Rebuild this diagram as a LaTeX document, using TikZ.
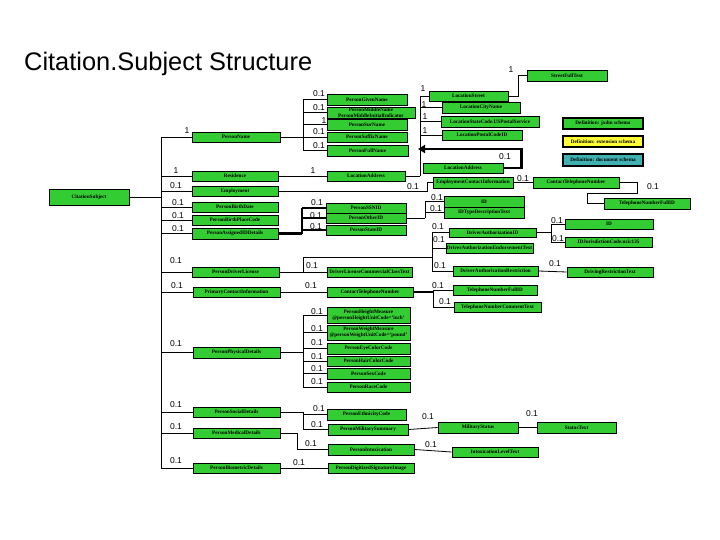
\documentclass[tikz,border=0pt]{standalone}
\usepackage{fontspec}
\setmainfont{Liberation Serif}
\newfontfamily\sansf{Liberation Sans}
\usetikzlibrary{arrows.meta}
\definecolor{gfill}{RGB}{51,204,51}
\definecolor{yfill}{RGB}{255,255,51}
\definecolor{tfill}{RGB}{64,176,176}
\newcommand{\bx}[7][]{\node[gbox,#1,minimum width={#4-#2},minimum height={#5-#3}] (#7) at ({(#2+#4)/2},{(#3+#5)/2}) {#6};}
\newcommand{\lb}[3]{\node[lab] (#1) at (#2) {#3};}
\begin{document}
\begin{tikzpicture}[x=1pt,y=-1pt,
  gbox/.style={draw=black,line width=0.7pt,fill=gfill,inner sep=0pt,align=center,font=\fontsize{5.2}{5.6}\selectfont\bfseries},
  legbox/.style={line width=1.8pt},
  lab/.style={inner sep=0pt,font=\sansf\fontsize{8.5}{9}\selectfont},
  conn/.style={line width=0.8pt},
  thickconn/.style={line width=2.4pt}]
\useasboundingbox (0,0) rectangle (720,540);
\node[anchor=base west,inner sep=0pt,font=\sansf\fontsize{25.4}{27}\selectfont] (title) at (24,71) {Citation.Subject Structure};
% coordinates of brackets
\coordinate (bMain) at (161,0);
\coordinate (bPN) at (303,0);
\coordinate (bLoc) at (420,0);
\coordinate (bID) at (302,0);
\coordinate (bOID) at (425,0);
\coordinate (bDA) at (432,0);
\coordinate (bDAID) at (551,0);
\coordinate (bTel) at (433,0);
\coordinate (bPhy) at (303,0);
\coordinate (bSoc) at (303,0);
% boxes
\bx{49}{189}{129}{205}{CitationSubject}{CitationSubject}
\bx{527}{70}{607}{81}{StreetFullText}{StreetFullText}
\bx{429}{91}{508}{101}{LocationStreet}{LocationStreet}
\bx{442}{102}{520}{113}{LocationCityName}{LocationCityName}
\bx{441}{116}{539}{127}{LocationStateCode.USPostalService}{LocationStateCode}
\bx{442}{130}{522}{140}{LocationPostalCodeID}{LocationPostalCodeID}
\bx{423}{163}{503}{173}{LocationAddress}{LocationAddressB}
\bx[legbox]{563}{118}{643}{129}{Definition: jxdm schema}{DefJxdm}
\bx[legbox,fill=yfill]{563}{136}{643}{147}{Definition: extension schema}{DefExt}
\bx[legbox,fill=tfill]{563}{154}{643}{166}{Definition: document schema}{DefDoc}
\bx{192}{132}{280}{142}{PersonName}{PersonName}
\bx{327}{94}{407}{105}{PersonGivenName}{PersonGivenName}
\bx{327}{107}{415}{118}{PersonMiddleName\\PersonMiddleInitialIndicator}{PersonMiddleName}
\bx{327}{119}{407}{130}{PersonSurName}{PersonSurName}
\bx{327}{132}{407}{142}{PersonSuffixName}{PersonSuffixName}
\bx{327}{145}{408}{156}{PersonFullName}{PersonFullName}
\bx{192}{171}{278}{181}{Residence}{Residence}
\bx{327}{171}{405}{181}{LocationAddress}{LocationAddress}
\bx{192}{186}{278}{196}{Employment}{Employment}
\bx{433}{177}{513}{188}{EmploymentContactInformation}{EmploymentContactInformation}
\bx{533}{177}{619}{188}{ContactTelephoneNumber}{ContactTelephoneNumberA}
\bx{604}{198}{690}{209}{TelephoneNumberFullID}{TelephoneNumberFullIDA}
\bx{192}{202}{278}{212}{PersonBirthDate}{PersonBirthDate}
\bx{192}{215}{278}{225}{PersonBirthPlaceCode}{PersonBirthPlaceCode}
\bx{192}{228}{278}{239}{PersonAssignedIDDetails}{PersonAssignedIDDetails}
\bx{326}{203}{406}{213}{PersonSSNID}{PersonSSNID}
\bx{326}{213}{406}{223}{PersonOtherID}{PersonOtherID}
\bx{326}{225}{406}{235}{PersonStateID}{PersonStateID}
\bx{444}{196}{524}{207}{ID}{IDA}
\bx{444}{207}{524}{218}{IDTypeDescriptionText}{IDTypeDescriptionText}
\bx{192}{267}{279}{277}{PersonDriverLicense}{PersonDriverLicense}
\bx{327}{267}{412}{277}{DriverLicenseCommercialClassText}{DriverLicenseCommercialClassText}
\bx{449}{228}{536}{237}{DriverAuthorizationID}{DriverAuthorizationID}
\bx{446}{243}{533}{253}{DriverAuthorizationEndorsementText}{DriverAuthorizationEndorsementText}
\bx{453}{266}{538}{276}{DriverAuthorizationRestriction}{DriverAuthorizationRestriction}
\bx{565}{219}{653}{229}{ID}{IDB}
\bx{565}{237}{652}{247}{IDJurisdictionCode.ncic135}{IDJurisdictionCode}
\bx{567}{267}{653}{277}{DrivingRestrictionText}{DrivingRestrictionText}
\bx{193}{287}{280}{297}{PrimaryContactInformation}{PrimaryContactInformation}
\bx{327}{287}{413}{297}{ContactTelephoneNumber}{ContactTelephoneNumberB}
\bx{453}{285}{537}{295}{TelephoneNumberFullID}{TelephoneNumberFullIDB}
\bx{454}{302}{541}{312}{TelephoneNumberCommentText}{TelephoneNumberCommentText}
\bx{193}{347}{280}{358}{PersonPhysicalDetails}{PersonPhysicalDetails}
\bx{327}{307}{410}{323}{PersonHeightMeasure\\@personHeightUnitCode='inch'}{PersonHeightMeasure}
\bx{327}{325}{410}{340}{PersonWeightMeasure\\@personWeightUnitCode='pound'}{PersonWeightMeasure}
\bx{327}{343}{410}{354}{PersonEyeColorCode}{PersonEyeColorCode}
\bx{327}{356}{410}{366}{PersonHairColorCode}{PersonHairColorCode}
\bx{327}{368}{410}{379}{PersonSexCode}{PersonSexCode}
\bx{327}{382}{410}{392}{PersonRaceCode}{PersonRaceCode}
\bx{193}{407}{280}{417}{PersonSocialDetails}{PersonSocialDetails}
\bx{193}{428}{280}{438}{PersonMedicalDetails}{PersonMedicalDetails}
\bx{193}{463}{280}{473}{PersonBiometricDetails}{PersonBiometricDetails}
\bx{327}{409}{406}{420}{PersonEthnicityCode}{PersonEthnicityCode}
\bx{328}{424}{408}{435}{PersonMilitarySummary}{PersonMilitarySummary}
\bx{438}{422}{518}{433}{MilitaryStatus}{MilitaryStatus}
\bx{537}{422}{616}{433}{StatusText}{StatusText}
\bx{328}{444}{414}{455}{PersonIntoxication}{PersonIntoxication}
\bx{452}{447}{538}{457}{IntoxicationLevelText}{IntoxicationLevelText}
\bx{328}{463}{414}{473}{PersonDigitizedSignatureImage}{PersonDigitizedSignatureImage}
% main bracket
\draw[conn] (CitationSubject.east) -- (CitationSubject.east -| bMain);
\draw[conn] (PersonName.west -| bMain) -- (PersonBiometricDetails.west -| bMain);
\foreach \c in {PersonName,Residence,Employment,PersonBirthDate,PersonBirthPlaceCode,PersonAssignedIDDetails,PersonDriverLicense,PrimaryContactInformation,PersonPhysicalDetails,PersonSocialDetails,PersonMedicalDetails,PersonBiometricDetails}
  \draw[conn] (\c.west -| bMain) -- (\c.west);
\lb{l01}{187,131}{1}
\lb{l02}{176,171}{1}
\lb{l03}{176,186}{0.1}
\lb{l04}{178,203}{0.1}
\lb{l05}{178,216}{0.1}
\lb{l06}{178,229}{0.1}
\lb{l07}{176,261}{0.1}
\lb{l08}{177,286}{0.1}
\lb{l09}{176,344}{0.1}
\lb{l10}{176,405}{0.1}
\lb{l11}{176,427}{0.1}
\lb{l12}{176,461}{0.1}
% person name
\draw[conn] (PersonName.east) -- (PersonName.east -| bPN);
\draw[conn] (PersonGivenName.west -| bPN) -- (PersonFullName.west -| bPN);
\foreach \c in {PersonGivenName,PersonMiddleName,PersonSurName,PersonSuffixName,PersonFullName}
  \draw[conn] (\c.west -| bPN) -- (\c.west);
\lb{l13}{319,94}{0.1}
\lb{l14}{319,108}{0.1}
\lb{l15}{324,121}{1}
\lb{l16}{319,132}{0.1}
\lb{l17}{319,146}{0.1}
% location
\draw[conn] (Residence.east) -- (LocationAddress.west);
\lb{l18}{313,171}{1}
\draw[conn] (LocationAddress.east) -- (LocationAddress.east -| bLoc);
\draw[conn] (LocationStreet.west -| bLoc) -- (LocationAddress.east -| bLoc);
\foreach \c in {LocationStreet,LocationCityName,LocationStateCode,LocationPostalCodeID}
  \draw[conn] (\c.west -| bLoc) -- (\c.west);
\lb{l19}{423,89}{1}
\lb{l20}{424,105}{1}
\lb{l21}{425,117}{1}
\lb{l22}{425,131}{1}
\draw[conn] (LocationStreet.east) -- ++(10,0) |- (StreetFullText.west);
\lb{l23}{511,70}{1}
\coordinate (arrEnd) at (418,149);
\draw[thickconn,-{Triangle[length=7pt,width=8pt]}] (LocationAddressB.east) -- ++(18,0) |- (arrEnd);
\lb{l24}{505,157}{0.1}
% employment
\draw[conn] (Employment.east) -- (427,191) |- (EmploymentContactInformation.west);
\lb{l25}{413,187}{0.1}
\draw[conn] (EmploymentContactInformation.east) -- (ContactTelephoneNumberA.west);
\lb{l26}{523,179}{0.1}
\coordinate (tA) at (637,193);
\coordinate (tB) at (587,193);
\draw[conn] (ContactTelephoneNumberA.east) -| (tA) -- (tB) |- (TelephoneNumberFullIDA.west);
\lb{l27}{653,187}{0.1}
% assigned IDs
\draw[thickconn] (PersonAssignedIDDetails.east) -- (PersonAssignedIDDetails.east -| bID);
\draw[thickconn] (PersonSSNID.west -| bID) -- (PersonAssignedIDDetails.east -| bID);
\foreach \c in {PersonSSNID,PersonOtherID,PersonStateID}
  \draw[thickconn] (\c.west -| bID) -- (\c.west);
\lb{l28}{317,203}{0.1}
\lb{l29}{316,216}{0.1}
\lb{l30}{316,227}{0.1}
\draw[conn] (PersonOtherID.east) -- (PersonOtherID.east -| bOID);
\draw[conn] (IDA.west -| bOID) -- (PersonOtherID.east -| bOID);
\draw[conn] (IDA.west -| bOID) -- (IDA.west);
\draw[conn] (IDTypeDescriptionText.west -| bOID) -- (IDTypeDescriptionText.west);
\lb{l31}{437,198}{0.1}
\lb{l32}{436,209}{0.1}
% driver license
\draw[conn] (PersonDriverLicense.east) -- (DriverLicenseCommercialClassText.west);
\lb{l33}{312,266}{0.1}
\coordinate (dlUp) at (303,257);
\draw[conn] (PersonDriverLicense.east -| dlUp) -- (dlUp) -- (dlUp -| bDA);
\draw[conn] (DriverAuthorizationID.west -| bDA) -- (DriverAuthorizationRestriction.west -| bDA);
\foreach \c in {DriverAuthorizationID,DriverAuthorizationEndorsementText,DriverAuthorizationRestriction}
  \draw[conn] (\c.west -| bDA) -- (\c.west);
\lb{l34}{438,227}{0.1}
\lb{l35}{439,240}{0.1}
\lb{l36}{440,266}{0.1}
\draw[conn] (DriverAuthorizationID.east) -- (DriverAuthorizationID.east -| bDAID);
\draw[conn] (IDB.west -| bDAID) -- (IDJurisdictionCode.west -| bDAID);
\draw[conn] (IDB.west -| bDAID) -- (IDB.west);
\draw[conn] (IDJurisdictionCode.west -| bDAID) -- (IDJurisdictionCode.west);
\lb{l37}{557,221}{0.1}
\lb{l38}{558,239}{0.1}
\draw[conn] (DriverAuthorizationRestriction.east) -- (DrivingRestrictionText.west);
\lb{l39}{555,264}{0.1}
% primary contact
\draw[conn] (PrimaryContactInformation.east) -- (ContactTelephoneNumberB.west);
\lb{l40}{311,286}{0.1}
\draw[thickconn] (ContactTelephoneNumberB.east) -- (ContactTelephoneNumberB.east -| bTel);
\draw[conn] (TelephoneNumberFullIDB.west -| bTel) -- (TelephoneNumberCommentText.west -| bTel);
\draw[conn] (TelephoneNumberFullIDB.west -| bTel) -- (TelephoneNumberFullIDB.west);
\draw[conn] (TelephoneNumberCommentText.west -| bTel) -- (TelephoneNumberCommentText.west);
\lb{l41}{438,286}{0.1}
\lb{l42}{445,302}{0.1}
% physical
\draw[conn] (PersonPhysicalDetails.east) -- (PersonPhysicalDetails.east -| bPhy);
\draw[conn] (PersonHeightMeasure.west -| bPhy) -- (PersonRaceCode.west -| bPhy);
\foreach \c in {PersonHeightMeasure,PersonWeightMeasure,PersonEyeColorCode,PersonHairColorCode,PersonSexCode,PersonRaceCode}
  \draw[conn] (\c.west -| bPhy) -- (\c.west);
\lb{l43}{317,312}{0.1}
\lb{l44}{317,329}{0.1}
\lb{l45}{317,343}{0.1}
\lb{l46}{317,357}{0.1}
\lb{l47}{317,369}{0.1}
\lb{l48}{317,382}{0.1}
% social
\draw[conn] (PersonSocialDetails.east) -- (PersonSocialDetails.east -| bSoc) |- (PersonMilitarySummary.west);
\draw[conn] (PersonEthnicityCode.west -| bSoc) -- (PersonEthnicityCode.west);
\lb{l49}{319,409}{0.1}
\lb{l50}{317,425}{0.1}
\draw[conn] (PersonMilitarySummary.east) -- (MilitaryStatus.west);
\lb{l51}{428,417}{0.1}
\draw[conn] (MilitaryStatus.east) -- (StatusText.west);
\lb{l52}{532,414}{0.1}
\coordinate (medX) at (297,0);
\draw[conn] (PersonMedicalDetails.east) -- (PersonMedicalDetails.east -| medX) |- (PersonIntoxication.west);
\lb{l53}{311,444}{0.1}
\draw[conn] (PersonIntoxication.east) -- (IntoxicationLevelText.west);
\lb{l54}{431,445}{0.1}
\draw[conn] (PersonBiometricDetails.east) -- (PersonDigitizedSignatureImage.west);
\lb{l55}{299,463}{0.1}
\end{tikzpicture}
\end{document}
